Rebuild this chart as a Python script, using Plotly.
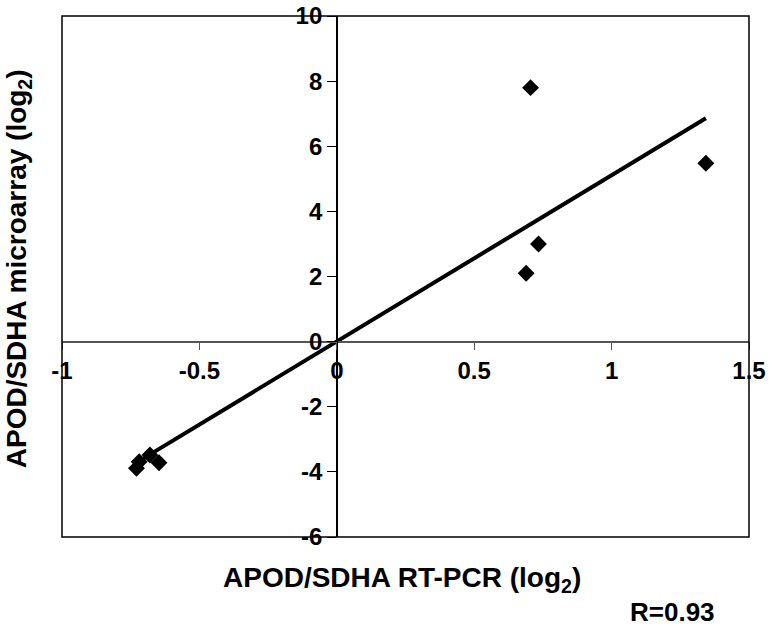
import numpy as np
import plotly.graph_objects as go

# Data
rt_pcr = [0.705, 1.343, 0.734, 0.689, -0.729, -0.719, -0.680, -0.647]
microarray = [7.80, 5.48, 3.00, 2.10, -3.89, -3.69, -3.48, -3.72]

x_tick_vals = [-1, -0.5, 0, 0.5, 1, 1.5]
x_tick_text = ["-1", "-0.5", "0", "0.5", "1", "1.5"]
y_tick_vals = [-6, -4, -2, 0, 2, 4, 6, 8, 10]
y_tick_text = ["-6", "-4", "-2", "0", "2", "4", "6", "8", "10"]

x_title = "APOD/SDHA RT-PCR (log<sub>2</sub>)"
y_title = "APOD/SDHA microarray (log<sub>2</sub>)"
r_label = "R=0.93"

# linear trend line fitted to the data
slope, intercept = np.polyfit(rt_pcr, microarray, 1)
fit_x = [min(rt_pcr), max(rt_pcr)]
fit_y = [slope * v + intercept for v in fit_x]

FONT = "Liberation Sans, Arial, sans-serif"

fig = go.Figure()
fig.add_trace(go.Scatter(x=fit_x, y=fit_y, mode="lines",
                         line=dict(color="black", width=4), showlegend=False))
fig.add_trace(go.Scatter(x=rt_pcr, y=microarray, mode="markers",
                         marker=dict(symbol="diamond", size=13, color="black"),
                         showlegend=False))

xr = [-1, 1.5]
yr = [-6, 10]

fig.update_layout(
    width=776, height=628,
    margin=dict(l=62, r=27, t=16, b=91),
    paper_bgcolor="white", plot_bgcolor="white",
    font=dict(family=FONT, color="black", size=24),
    xaxis=dict(range=xr, tickvals=x_tick_vals, ticktext=x_tick_text,
               showgrid=False, zeroline=False, showline=True, automargin=False,
               linecolor="#555", linewidth=1.5,
               ticks="outside", ticklen=8, tickcolor="#555", tickwidth=1,
               tickfont=dict(size=24, family=FONT, weight="bold"),
               anchor="free", position=(0 - yr[0]) / (yr[1] - yr[0])),
    yaxis=dict(range=yr, tickvals=y_tick_vals, ticktext=y_tick_text,
               showgrid=False, zeroline=False, showline=True, automargin=False,
               linecolor="black", linewidth=1.5,
               ticks="outside", ticklen=9, tickcolor="black", tickwidth=1,
               tickfont=dict(size=24, family=FONT, weight="bold"),
               anchor="free", position=(0 - xr[0]) / (xr[1] - xr[0])),
    shapes=[dict(type="rect", xref="paper", yref="paper", x0=0, y0=0, x1=1, y1=1,
                 line=dict(color="black", width=1.5), layer="above")],
    annotations=[
        dict(text=x_title, xref="paper", yref="paper", x=0.495, y=-0.0825,
             showarrow=False, xanchor="center", yanchor="middle",
             font=dict(size=28, family=FONT, weight="bold")),
        dict(text=y_title, xref="paper", yref="paper", x=-0.064, y=0.514,
             showarrow=False, xanchor="center", yanchor="middle", textangle=-90,
             font=dict(size=28, family=FONT, weight="bold")),
        dict(text=r_label, xref="paper", yref="paper", x=0.888, y=-0.144,
             showarrow=False, xanchor="center", yanchor="middle",
             font=dict(size=26, family=FONT, weight="bold")),
    ],
)

fig.write_html("out.html", config={"displayModeBar": False},
               post_script="document.body.style.margin='0';document.body.style.overflow='hidden';")
